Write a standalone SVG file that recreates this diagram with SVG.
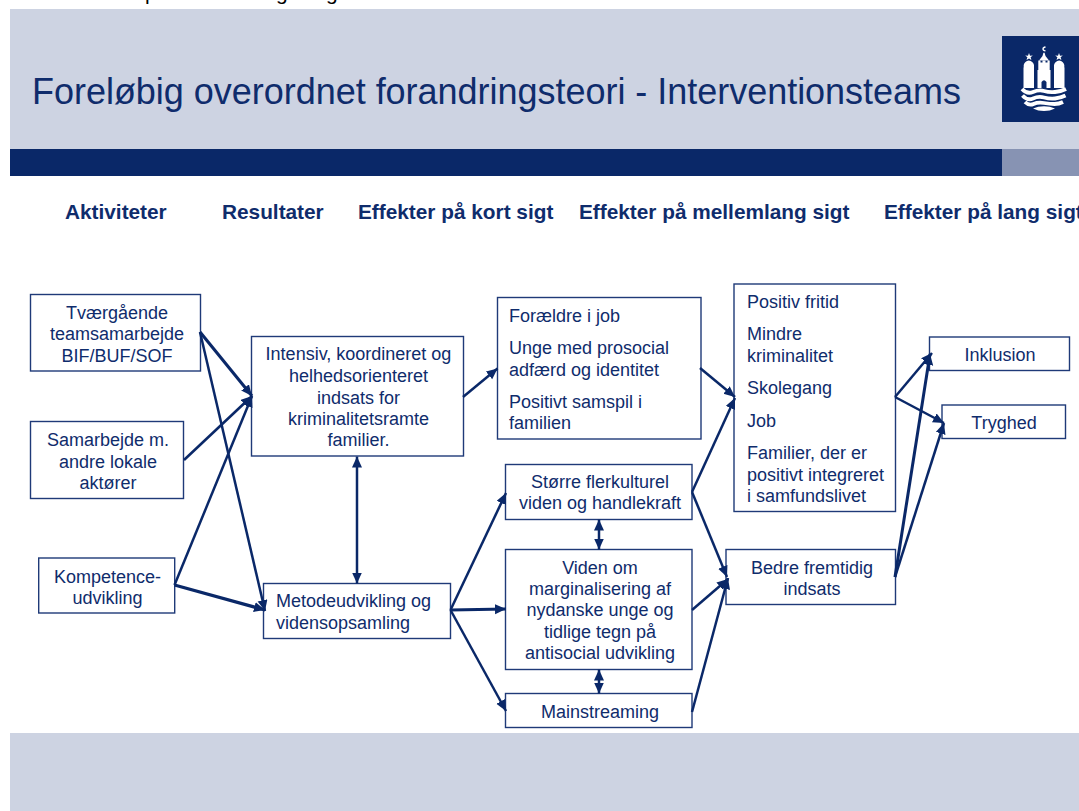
<svg xmlns="http://www.w3.org/2000/svg" width="1079" height="811" viewBox="0 0 1079 811">
<style>
text{font-family:"Liberation Sans",Arial,sans-serif;fill:#0f2c6c;font-size:18px}
.c{text-anchor:middle}
.h{font-weight:bold;font-size:20.800px}
.t{font-size:36px}
.b{fill:#fff;stroke:#1f3a78;stroke-width:1.4}
.k{fill:none;stroke:#0a2868;stroke-width:2.500;marker-end:url(#a)}
.d{fill:none;stroke:#0a2868;stroke-width:2.500;marker-start:url(#s);marker-end:url(#a)}
.w{fill:#fff}
.v{fill:none;stroke:#fff;stroke-linecap:butt}
</style>
<defs>
<marker id="a" markerUnits="userSpaceOnUse" markerWidth="12" markerHeight="11" refX="11" refY="5" orient="auto"><path d="M0 0L11 5L0 10z" fill="#0a2868"/></marker>
<marker id="s" markerUnits="userSpaceOnUse" markerWidth="12" markerHeight="11" refX="0" refY="5" orient="auto"><path d="M11 0L0 5L11 10z" fill="#0a2868"/></marker>
</defs>
<rect width="1079" height="811" fill="#fff"/>
<g id="cut-off-line"><text x="145" y="0" style="font-size:21px;fill:#000">p</text><text x="276" y="0" style="font-size:21px;fill:#000">g</text><text x="326" y="0" style="font-size:21px;fill:#000">g</text></g>
<rect x="10" y="9" width="1069" height="140" fill="#cdd3e2"/>
<rect x="10" y="149" width="992" height="27" fill="#0a2868"/>
<rect x="1002" y="149" width="77" height="27" fill="#8793b3"/>
<rect x="10" y="733" width="1069" height="78" fill="#cdd3e2"/>
<text id="title" class="t" x="32" y="104" textLength="929">Foreløbig overordnet forandringsteori - Interventionsteams</text>
<g id="logo">
<rect x="1002" y="36" width="77" height="86" fill="#0a2868"/>
<path class="w" d="M1023.500 88V67.500h.2v-2.500q1-3.700 5.100-4.400 4.200.7 5.200 4.400v2.500h0V88z"/>
<path class="w" d="M1054 88V67.500h0v-2.500q1-3.700 5.200-4.400 4.100.7 5.100 4.400v2.500h.2V88z"/>
<path class="w" fill-rule="evenodd" d="M1037.500 88V70h.8v-9.500h2.200v2h2v-2h3v2h2v-2h2.200V70h.8v18zM1041.500 88h5v-6q-2.500-3.500-5 0z"/>
<path class="w" d="M1039 60.500l3.500-4.500.9-3.300h1.200l.9 3.300 3.500 4.500z"/>
<path class="v" stroke-width="1.300" d="M1045.500 47q-2.500.4-2.500 1.900t2.500 1.900"/>
<path class="w" d="M1029 53l1 2.700 2.800-.2-2.200 1.800.9 2.700-2.500-1.500-2.500 1.500.9-2.700-2.200-1.800 2.800.2zM1059 53l1 2.700 2.800-.2-2.200 1.800.9 2.700-2.500-1.500-2.500 1.500.9-2.700-2.200-1.800 2.800.2z"/>
<path class="v" stroke-width="3.800" d="M1022 89q5 5.500 11 3t11-1 11 1 11-3"/>
<path class="v" stroke-width="3.800" d="M1022.500 95.500q5 5.500 10.500 3t11-1 11 1 10.500-3"/>
<path class="v" stroke-width="3.800" d="M1025 102q4 4 8.500 2t10.500-1 10.500 1 8.500-2"/>
<path class="w" d="M1033 108.500q5-2.200 11-2.200t11 2.200q-5 2.500-11 2.500t-11-2.500z"/>
</g>
<g id="headings">
<text class="h" x="65" y="219">Aktiviteter</text>
<text class="h" x="222" y="219">Resultater</text>
<text class="h" x="358" y="219">Effekter på kort sigt</text>
<text class="h" x="579" y="219">Effekter på mellemlang sigt</text>
<text class="h" x="884" y="219">Effekter på lang sigt</text>
</g>
<g id="n-tvaergaaende"><rect class="b" x="30.500" y="294.500" width="170" height="76.500"/><text class="c" x="117" y="319">Tværgående</text><text class="c" x="117" y="340">teamsamarbejde</text><text class="c" x="117" y="362">BIF/BUF/SOF</text></g>
<g id="n-samarbejde"><rect class="b" x="30.500" y="421.500" width="153" height="77"/><text class="c" x="108" y="446">Samarbejde m.</text><text class="c" x="108" y="468">andre lokale</text><text class="c" x="108" y="489">aktører</text></g>
<g id="n-kompetence"><rect class="b" x="38.700" y="558" width="136" height="55"/><text class="c" x="107.500" y="583">Kompetence-</text><text class="c" x="107.500" y="604">udvikling</text></g>
<g id="n-intensiv"><rect class="b" x="251.500" y="336.500" width="212" height="119.500"/><text class="c" x="358.500" y="360">Intensiv, koordineret og</text><text class="c" x="358.500" y="382">helhedsorienteret</text><text class="c" x="358.500" y="404">indsats for</text><text class="c" x="358.500" y="425">kriminalitetsramte</text><text class="c" x="358.500" y="446">familier.</text></g>
<g id="n-metode"><rect class="b" x="263.500" y="583.500" width="187" height="55"/><text x="276" y="607">Metodeudvikling og</text><text x="276" y="629">vidensopsamling</text></g>
<g id="n-foraeldre"><rect class="b" x="497.500" y="297.500" width="203.500" height="141.500"/><text x="509" y="322">Forældre i job</text><text x="509" y="354">Unge med prosocial</text><text x="509" y="376">adfærd og identitet</text><text x="509" y="408">Positivt samspil i</text><text x="509" y="429">familien</text></g>
<g id="n-stoerre"><rect class="b" x="505.500" y="464.500" width="186.500" height="55"/><text class="c" x="600" y="488">Større flerkulturel</text><text class="c" x="600" y="509">viden og handlekraft</text></g>
<g id="n-viden"><rect class="b" x="505.500" y="549.500" width="186.500" height="120"/><text class="c" x="600" y="574">Viden om</text><text class="c" x="600" y="595">marginalisering af</text><text class="c" x="600" y="616">nydanske unge og</text><text class="c" x="600" y="638">tidlige tegn på</text><text class="c" x="600" y="659">antisocial udvikling</text></g>
<g id="n-mainstreaming"><rect class="b" x="505.500" y="693.500" width="186.500" height="34"/><text class="c" x="600" y="718">Mainstreaming</text></g>
<g id="n-positiv"><rect class="b" x="734" y="284" width="161.500" height="227.500"/><text x="747" y="308">Positiv fritid</text><text x="747" y="340">Mindre</text><text x="747" y="362">kriminalitet</text><text x="747" y="394">Skolegang</text><text x="747" y="427">Job</text><text x="747" y="459">Familier, der er</text><text x="747" y="481">positivt integreret</text><text x="747" y="502">i samfundslivet</text></g>
<g id="n-bedre"><rect class="b" x="726" y="549.500" width="169.500" height="55"/><text class="c" x="812" y="574">Bedre fremtidig</text><text class="c" x="812" y="595">indsats</text></g>
<g id="n-inklusion"><rect class="b" x="929.500" y="337" width="140" height="33.500"/><text class="c" x="1000" y="361">Inklusion</text></g>
<g id="n-tryghed"><rect class="b" x="942" y="405" width="123.500" height="33.500"/><text class="c" x="1004" y="429">Tryghed</text></g>
<g id="connectors">
<path class="k" style="stroke-width:3" d="M200 332L252 396"/>
<path class="k" d="M200 332L265 611"/>
<path class="k" d="M184 460L252 396"/>
<path class="k" d="M174.500 585L252 396"/>
<path class="k" style="stroke-width:3.200" d="M174.500 585L265 610"/>
<path class="k" d="M463 397L497.500 368.500"/>
<path class="d" d="M357 456.500V583.500"/>
<path class="k" d="M450.500 610L506 493"/>
<path class="k" style="stroke-width:3.200" d="M450.500 610L506 609"/>
<path class="k" d="M450.500 610L506 711"/>
<path class="d" d="M599 519.500V549.500"/>
<path class="d" d="M599 669.500V693.500"/>
<path class="k" d="M700 368L735 397"/>
<path class="k" d="M692 492L735 398"/>
<path class="k" d="M692 492L727 577"/>
<path class="k" d="M692 610L728 579"/>
<path class="k" d="M692 712L728 578"/>
<path class="k" d="M895 397L932 353"/>
<path class="k" d="M895 397L944 423"/>
<path class="k" style="stroke-width:3" d="M895 577L930 354"/>
<path class="k" d="M895 577L944 423"/>
</g>
</svg>
